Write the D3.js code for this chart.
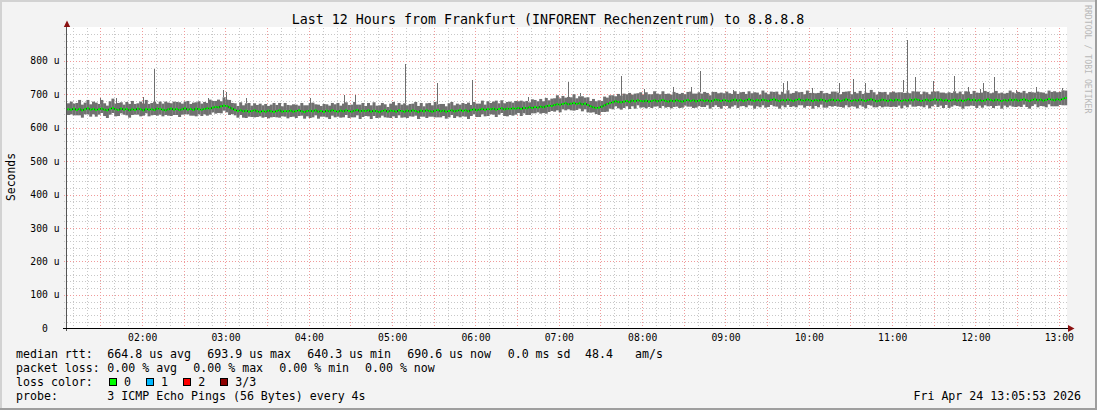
<!DOCTYPE html>
<html lang="en">
<head>
<meta charset="UTF-8">
<title>Last 12 Hours from Frankfurt</title>
<style>
  html, body { margin: 0; padding: 0; background: #f3f3f3; overflow: hidden; }
  svg { display: block; font-family: "DejaVu Sans Mono", monospace; }
  text { white-space: pre; fill: #000; }
  .grid line { shape-rendering: crispEdges; stroke-dasharray: 1,2; }
  .minor line { stroke: #c8c8c8; }
  .major line { stroke: #f09a9a; }
  .ticklabel { font-size: 9.7px; }
  .legend { font-size: 11.6px; }
</style>
</head>
<body>
<svg width="1097" height="410"></svg>
<script src="https://d3js.org/d3.v7.min.js"></script>
<script>
// --- data ---
const title = "Last 12 Hours from Frankfurt (INFORENT Rechenzentrum) to 8.8.8.8";
const start = Date.UTC(2026, 3, 24, 1, 5, 53);   // 12 h window ending 13:05:53
const binMinutes = 2;

// median rtt per 2-minute bin, microseconds
const median = [
  655, 654, 657, 653, 656, 652, 655, 658, 654, 656, 653, 655, 657, 654, 652, 656, 659, 655, 653, 657,
  654, 656, 652, 655, 653, 657, 655, 652, 656, 654, 655, 653, 657, 656, 654, 652, 655, 657, 654, 656,
  653, 655, 658, 654, 656, 653, 657, 655, 654, 656, 658, 657, 660, 662, 661, 664, 666, 665, 661, 657,
  653, 650, 652, 649, 651, 648, 650, 652, 649, 647, 650, 648, 651, 649, 647, 650, 652, 648, 650, 649,
  651, 648, 650, 652, 649, 647, 650, 651, 649, 652, 648, 650, 647, 651, 649, 652, 650, 648, 651, 649,
  652, 650, 648, 651, 653, 649, 651, 650, 652, 648, 651, 649, 647, 650, 652, 648, 651, 650, 648, 652,
  650, 648, 651, 649, 652, 650, 647, 651, 649, 652, 650, 648, 651, 653, 649, 651, 648, 650, 652, 649,
  651, 653, 650, 652, 649, 653, 655, 652, 654, 656, 653, 656, 655, 657, 654, 656, 658, 655, 657, 656,
  658, 657, 659, 656, 660, 658, 661, 659, 662, 660, 663, 661, 664, 666, 665, 668, 670, 669, 671, 673,
  670, 672, 674, 671, 673, 670, 672, 668, 664, 661, 659, 660, 663, 667, 671, 674, 676, 679, 677, 676,
  678, 680, 677, 681, 679, 682, 680, 679, 681, 678, 680, 682, 679, 681, 683, 680, 678, 681, 679, 682,
  680, 678, 681, 683, 680, 682, 679, 681, 683, 680, 682, 679, 681, 684, 682, 680, 683, 681, 679, 682,
  684, 681, 683, 680, 682, 685, 682, 680, 683, 681, 684, 682, 680, 683, 685, 682, 680, 683, 681, 684,
  682, 680, 683, 685, 682, 681, 684, 682, 680, 683, 681, 684, 682, 679, 682, 684, 681, 683, 680, 682,
  685, 682, 680, 683, 681, 684, 682, 680, 683, 685, 682, 679, 681, 684, 682, 680, 683, 681, 684, 682,
  680, 683, 681, 684, 682, 685, 683, 680, 682, 684, 681, 683, 685, 682, 684, 681, 683, 680, 682, 684,
  681, 683, 680, 682, 685, 682, 684, 681, 683, 680, 682, 685, 683, 681, 684, 682, 680, 683, 681, 684,
  682, 684, 681, 683, 685, 682, 680, 683, 685, 682, 684, 681, 683, 686, 684, 682, 685, 683, 686, 689
];

// how far the ping smoke reaches above the median in each bin
const spreadUp = [
  18, 24, 15, 21, 27, 17, 20, 25, 16, 22, 22, 16, 26, 19, 14, 23, 28, 17, 21, 19,
  15, 21, 19, 25, 18, 16, 23, 20, 27, 17, 19, 25, 14, 22, 18, 26, 20, 16, 24, 21,
  23, 17, 20, 26, 15, 22, 19, 24, 18, 21, 16, 27, 20, 18, 23, 15, 25, 19, 22, 17,
  20, 15, 24, 18, 22, 26, 16, 21, 19, 25, 17, 23, 14, 20, 27, 18, 22, 16, 24, 19,
  16, 22, 19, 14, 25, 20, 17, 23, 26, 18, 21, 15, 24, 19, 17, 22, 20, 26, 15, 23,
  24, 18, 21, 26, 16, 20, 23, 15, 22, 19, 25, 17, 20, 24, 18, 14, 21, 27, 19, 22,
  19, 25, 16, 22, 20, 27, 18, 23, 15, 21, 24, 19, 26, 17, 22, 20, 16, 23, 25, 18,
  21, 16, 24, 19, 26, 15, 22, 20, 18, 25, 16, 23, 19, 21, 27, 17, 24, 18, 20, 22,
  17, 23, 20, 25, 18, 22, 15, 26, 21, 19, 23, 18, 25, 16, 22, 20, 27, 19, 24, 17,
  22, 19, 26, 17, 21, 24, 18, 23, 16, 25, 20, 22, 17, 26, 19, 23, 21, 15, 24, 20,
  24, 20, 27, 18, 23, 21, 26, 19, 25, 22, 20, 27, 23, 19, 26, 21, 24, 18, 28, 22,
  21, 26, 19, 24, 28, 20, 23, 25, 19, 27, 22, 18, 26, 23, 21, 25, 20, 27, 24, 19,
  25, 20, 23, 27, 19, 24, 21, 26, 22, 18, 27, 23, 20, 25, 22, 26, 19, 24, 21, 28,
  20, 24, 26, 21, 25, 19, 27, 22, 24, 20, 23, 26, 21, 25, 19, 24, 27, 22, 20, 25,
  23, 27, 20, 24, 22, 26, 19, 25, 21, 28, 24, 20, 26, 22, 25, 19, 23, 27, 21, 24,
  26, 21, 24, 19, 27, 23, 25, 20, 26, 22, 19, 25, 23, 27, 21, 24, 20, 26, 22, 25,
  22, 25, 20, 27, 23, 19, 26, 24, 21, 25, 28, 22, 20, 24, 26, 21, 25, 19, 23, 27,
  24, 19, 26, 22, 25, 21, 27, 23, 20, 26, 22, 24, 19, 25, 23, 27, 21, 24, 26, 22
];

// how far the ping smoke reaches below the median in each bin
const spreadDown = [
  17, 14, 20, 16, 19, 22, 15, 18, 21, 16, 20, 16, 13, 19, 23, 17, 15, 21, 18, 14,
  15, 19, 22, 17, 14, 18, 21, 16, 13, 20, 18, 15, 21, 17, 20, 14, 19, 22, 16, 18,
  21, 16, 18, 14, 20, 17, 23, 15, 19, 16, 22, 18, 14, 20, 17, 21, 15, 19, 23, 16,
  16, 20, 14, 19, 22, 15, 18, 21, 17, 13, 20, 16, 23, 18, 15, 19, 22, 14, 17, 21,
  19, 15, 21, 17, 13, 20, 16, 22, 18, 15, 21, 17, 14, 20, 23, 16, 19, 15, 21, 18,
  14, 21, 17, 20, 16, 23, 19, 15, 18, 22, 16, 20, 17, 14, 21, 18, 22, 16, 19, 15,
  20, 17, 22, 15, 19, 14, 21, 18, 16, 23, 17, 15, 20, 22, 18, 16, 21, 19, 14, 20,
  17, 22, 16, 19, 23, 18, 15, 20, 22, 16, 19, 21, 15, 18, 22, 17, 14, 20, 23, 18,
  22, 18, 15, 21, 17, 20, 23, 16, 19, 14, 21, 17, 22, 19, 15, 20, 18, 23, 16, 21,
  15, 20, 23, 18, 16, 21, 17, 22, 19, 15, 18, 22, 16, 20, 23, 17, 21, 15, 19, 22,
  19, 16, 21, 17, 22, 15, 20, 18, 23, 16, 21, 19, 15, 22, 18, 20, 16, 23, 17, 19,
  21, 18, 15, 20, 17, 23, 19, 16, 21, 18, 15, 22, 19, 17, 20, 23, 18, 16, 21, 19,
  17, 22, 19, 15, 21, 18, 16, 23, 19, 20, 17, 22, 18, 15, 21, 19, 23, 17, 20, 16,
  20, 16, 22, 18, 15, 21, 19, 17, 23, 18, 20, 15, 22, 19, 17, 21, 16, 20, 18, 22,
  18, 21, 16, 20, 23, 17, 19, 22, 15, 19, 21, 18, 16, 23, 19, 17, 21, 18, 22, 16,
  22, 17, 20, 15, 19, 22, 18, 16, 21, 17, 23, 19, 16, 20, 18, 22, 15, 21, 19, 17,
  16, 20, 23, 18, 21, 16, 19, 22, 17, 20, 15, 21, 18, 22, 19, 16, 23, 17, 20, 18,
  19, 22, 17, 21, 16, 20, 23, 18, 15, 21, 19, 17, 22, 16, 20, 18, 21, 15, 19, 22
];

// single slow pings sticking out of the smoke
const spikeTimes = [
  "01:29", "01:41", "02:00", "02:08", "02:47", "02:58", "03:00", "03:14",
  "04:00", "04:25", "04:33", "05:09", "05:32", "05:57", "06:37", "07:06",
  "07:15", "07:44", "08:01", "08:22", "08:35", "08:41", "09:05", "09:41",
  "09:44", "10:02", "10:21", "10:31", "10:40", "11:07", "11:10", "11:16",
  "11:29", "11:44", "11:54", "12:03", "12:05", "12:13", "12:29", "12:43", "13:02"
];
const spikeValues = [
  690, 690, 693, 776, 688, 712, 706, 690,
  689, 698, 698, 792, 733, 743, 691, 737,
  703, 755, 716, 723, 721, 769, 713, 734,
  741, 718, 735, 746, 733, 743, 863, 753,
  741, 755, 721, 715, 733, 753, 713, 721, 718
];

const yTicks = [0, 100, 200, 300, 400, 500, 600, 700, 800];
const xTickLabels = ["02:00", "03:00", "04:00", "05:00", "06:00", "07:00",
  "08:00", "09:00", "10:00", "11:00", "12:00", "13:00"];

const rttLegend = ["median rtt:", "664.8 us avg", "693.9 us max", "640.3 us min",
  "690.6 us now", "0.0 ms sd", "48.4", "am/s"];
const lossLegend = ["packet loss:", "0.00 % avg", "0.00 % max", "0.00 % min", "0.00 % now"];
const lossColorLabels = ["0", "1", "2", "3/3"];
const lossColorValues = ["#00ff00", "#00b8ff", "#ff0000", "#8c0000"];
const probeLegend = ["probe:", "3 ICMP Echo Pings (56 Bytes) every 4s"];
const stamp = "Fri Apr 24 13:05:53 2026";

// --- layout ---
const W = 1097, H = 410;
const plot = { left: 67, right: 1067, top: 27.4, bottom: 328.3 };
const svg = d3.select("svg");

const x = d3.scaleUtc()
  .domain([start, start + 12 * 3600e3])
  .range([plot.left, plot.right]);
const y = d3.scaleLinear()
  .domain([0, 900])
  .range([plot.bottom, plot.top]);

const px = v => Math.round(v) + 0.5;
const hm = s => {
  const [h, m] = s.split(":").map(Number);
  return Date.UTC(2026, 3, 24, h, m);
};

// frame
svg.append("rect").attr("width", W).attr("height", H).attr("fill", "#f3f3f3");
svg.append("path").attr("d", `M1,${H} V1 H${W}`).attr("stroke", "#d2d2d2").attr("stroke-width", 2).attr("fill", "none");
svg.append("path").attr("d", `M0,${H - 1} H${W - 1} V0`).attr("stroke", "#9e9e9e").attr("stroke-width", 2).attr("fill", "none");

// canvas
svg.append("rect")
  .attr("x", plot.left).attr("y", 27)
  .attr("width", plot.right - plot.left).attr("height", 301)
  .attr("fill", "#fff");

// grid
const minorX = x.ticks(d3.utcMinute.every(10)).filter(t => t % 1800e3 !== 0);
const majorX = x.ticks(d3.utcMinute.every(30));
const minorY = d3.range(20, 900, 20).filter(v => v % 100 !== 0);
const majorY = yTicks.filter(v => v > 0);

const gMinor = svg.append("g").attr("class", "grid minor");
gMinor.selectAll(".v").data(minorX).join("line")
  .attr("x1", d => px(x(d))).attr("x2", d => px(x(d)))
  .attr("y1", 28).attr("y2", 330);
gMinor.selectAll(".h").data(minorY).join("line")
  .attr("x1", 64).attr("x2", plot.right)
  .attr("y1", d => px(y(d))).attr("y2", d => px(y(d)));

const gMajor = svg.append("g").attr("class", "grid major");
gMajor.selectAll(".v").data(majorX).join("line")
  .attr("x1", d => px(x(d))).attr("x2", d => px(x(d)))
  .attr("y1", 28).attr("y2", 331);
gMajor.selectAll(".h").data(majorY).join("line")
  .attr("x1", 64).attr("x2", plot.right)
  .attr("y1", d => px(y(d))).attr("y2", d => px(y(d)));

// smoke
const binMs = binMinutes * 60e3;
const bins = median.map((m, i) => ({
  t0: start + i * binMs, t1: start + (i + 1) * binMs,
  m, lo: m - spreadDown[i], hi: m + spreadUp[i]
}));

svg.append("g").selectAll("rect").data(bins).join("rect")
  .attr("x", d => x(d.t0))
  .attr("width", d => x(d.t1) - x(d.t0) + 0.2)
  .attr("y", d => y(d.hi))
  .attr("height", d => y(d.lo) - y(d.hi))
  .attr("fill", "#707070");

const spikes = spikeTimes.map((s, i) => {
  const t = hm(s) + 30e3;
  const b = bins[Math.min(bins.length - 1, Math.floor((t - start) / binMs))];
  return { t, v: spikeValues[i], base: b.hi };
});
svg.append("g").selectAll("line").data(spikes).join("line")
  .attr("x1", d => px(x(d.t))).attr("x2", d => px(x(d.t)))
  .attr("y1", d => y(d.base)).attr("y2", d => y(d.v))
  .attr("stroke", "#6e6e6e").attr("stroke-width", 1)
  .attr("shape-rendering", "crispEdges");

// median: thin dark steps, green flats on top
const stepPts = bins.map(d => [d.t0, d.m]).concat([[bins[bins.length - 1].t1, bins[bins.length - 1].m]]);
svg.append("path")
  .attr("d", d3.line().x(d => x(d[0])).y(d => y(d[1])).curve(d3.curveStepAfter)(stepPts))
  .attr("fill", "none").attr("stroke", "#1a1a1a").attr("stroke-width", 1);
svg.append("g").selectAll("line").data(bins).join("line")
  .attr("x1", d => x(d.t0) + 0.4).attr("x2", d => x(d.t1) - 0.4)
  .attr("y1", d => y(d.m)).attr("y2", d => y(d.m))
  .attr("stroke", "#00ff00").attr("stroke-width", 2);

// axes
const xAxis = d3.axisBottom(x)
  .tickValues(xTickLabels.map(hm))
  .tickFormat(d3.utcFormat("%H:%M"))
  .tickSize(0).tickPadding(6);
const gx = svg.append("g").attr("transform", `translate(0,${plot.bottom})`).call(xAxis);
gx.select(".domain").remove();
gx.selectAll("text").attr("class", "ticklabel").attr("fill", "#000").style("font-family", "DejaVu Sans Mono");

const yAxis = d3.axisLeft(y)
  .tickValues(yTicks)
  .tickFormat(d => d === 0 ? "0" : d + " u")
  .tickSize(0).tickPadding(7.5);
const gy = svg.append("g").attr("transform", `translate(${plot.left},0)`).call(yAxis);
gy.select(".domain").remove();
gy.selectAll("text").attr("class", "ticklabel").attr("fill", "#000")
  .style("font-family", "DejaVu Sans Mono")
  .attr("dx", d => d === 0 ? -11.6 : 0);

svg.append("line").attr("x1", 66.5).attr("x2", 66.5).attr("y1", 26).attr("y2", plot.bottom + 3)
  .attr("stroke", "#555").attr("shape-rendering", "crispEdges");
svg.append("line").attr("x1", 63).attr("x2", 1069).attr("y1", 328.5).attr("y2", 328.5)
  .attr("stroke", "#000").attr("shape-rendering", "crispEdges");
svg.append("path").attr("d", "M63.8,27 L70.2,27 L67,20.5 Z").attr("fill", "#8b1010");
svg.append("path").attr("d", "M1068,325 L1068,332 L1074.5,328.5 Z").attr("fill", "#8b1010");

// titles
svg.append("text").attr("x", 548).attr("y", 24).attr("text-anchor", "middle")
  .style("font-size", "13.3px").text(title);
svg.append("text").attr("transform", "translate(15,177) rotate(-90)").attr("text-anchor", "middle")
  .style("font-size", "11.4px").text("Seconds");
svg.append("text").attr("transform", "translate(1085,5) rotate(90)")
  .style("font-size", "8.2px").style("fill", "#b8b8b8").text("RRDTOOL / TOBI OETIKER");

// legend
const lg = svg.append("g").attr("class", "legend");
const rttX = [16, 107.3, 207.3, 307.3, 407.3, 507.7, 585, 635];
rttLegend.forEach((s, i) => lg.append("text").attr("x", rttX[i]).attr("y", 358).text(s));
const lossX = [16, 107.3, 193.3, 279.3, 365];
lossLegend.forEach((s, i) => lg.append("text").attr("x", lossX[i]).attr("y", 372).text(s));
lg.append("text").attr("x", 16).attr("y", 386).text("loss color:");
lossColorValues.forEach((c, i) => {
  const bx = 108.5 + i * 37.1;
  lg.append("rect").attr("x", Math.round(bx) + 0.5).attr("y", 378.5).attr("width", 7).attr("height", 7)
    .attr("fill", c).attr("stroke", "#000").attr("shape-rendering", "crispEdges");
  lg.append("text").attr("x", bx + 15.5).attr("y", 386).text(lossColorLabels[i]);
});
lg.append("text").attr("x", 16).attr("y", 400).text(probeLegend[0]);
lg.append("text").attr("x", 107.3).attr("y", 400).text(probeLegend[1]);
lg.append("text").attr("x", 1081).attr("y", 400).attr("text-anchor", "end").text(stamp);
</script>
</body>
</html>
